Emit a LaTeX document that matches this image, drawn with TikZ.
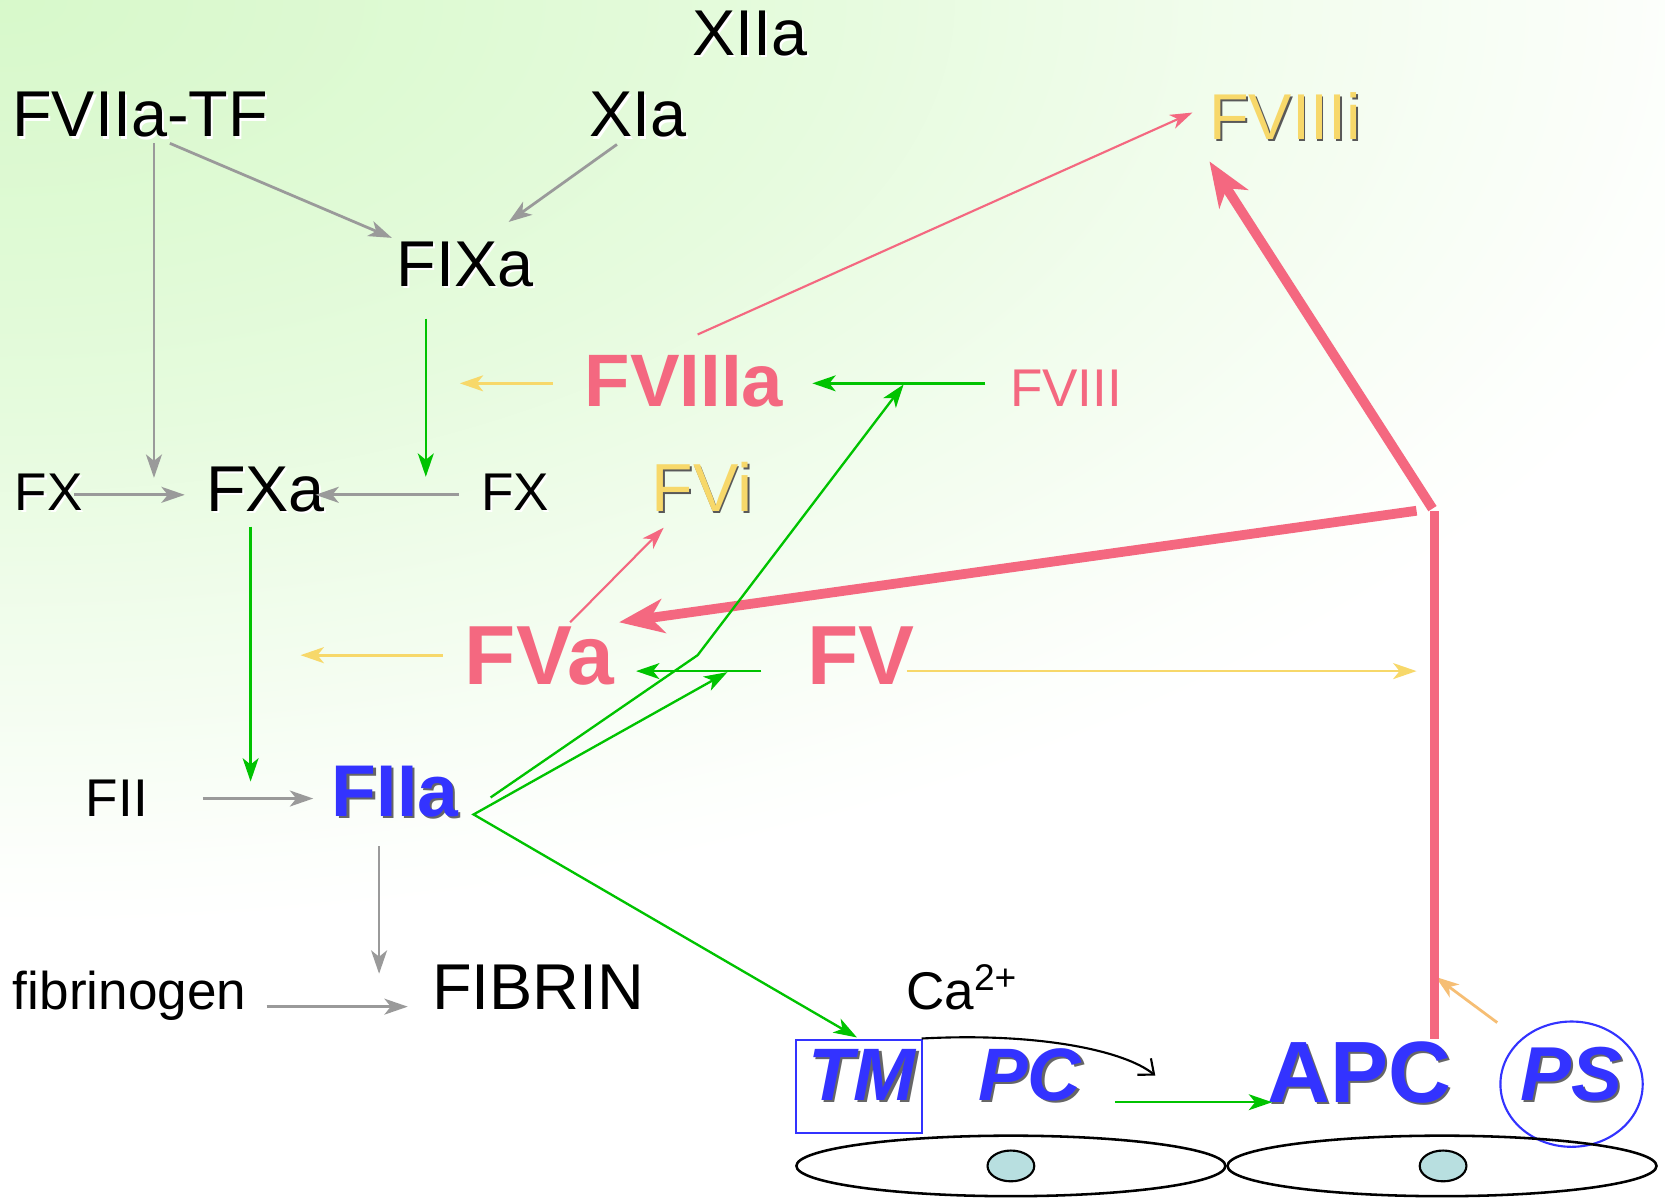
\documentclass[tikz,border=0pt]{standalone}
\usepackage{fontspec}
\setmainfont{Liberation Sans}
\usetikzlibrary{arrows.meta}
\definecolor{bgg}{HTML}{D4F8C6}
\definecolor{arrgray}{HTML}{9A9A9A}
\definecolor{grn}{HTML}{00C300}
\definecolor{pnk}{HTML}{F46880}
\definecolor{ylw}{HTML}{F7D86A}
\definecolor{org}{HTML}{F6BE74}
\definecolor{blu}{HTML}{3333FF}
\definecolor{nuc}{HTML}{B8DFE0}
\pgfdeclareradialshading{bgshade}{\pgfpoint{0bp}{0bp}}{color(0bp)=(bgg!92!white); color(6bp)=(bgg!76!white); color(11.5bp)=(bgg!58!white); color(16bp)=(bgg!37!white); color(20bp)=(bgg!20!white); color(23bp)=(bgg!7!white); color(25bp)=(white); color(50bp)=(white)}
\newcommand\shadowed[3]{\rlap{\kern#3\raisebox{-#3}{\color{#1}#2}}#2}
\begin{document}
\begin{tikzpicture}[x=0.5pt,y=-0.5pt,
  lbl/.style={inner sep=0pt,anchor=base},
  bigreg/.style={lbl,font=\fontsize{30.5}{34}\selectfont,text=black},
  smallreg/.style={lbl,font=\fontsize{25}{29}\selectfont,text=black},
  grayarr/.style={draw=arrgray,line width=1.3pt,-{Stealth[length=11pt,width=7.5pt,inset=3pt]}},
  greenarr/.style={draw=grn,line width=1.1pt,-{Stealth[length=11pt,width=7.5pt,inset=3pt]}},
  yelarr/.style={draw=ylw,line width=1.3pt,-{Stealth[length=11pt,width=7.5pt,inset=3pt]}},
  pinkthin/.style={draw=pnk,line width=1pt,-{Stealth[length=10.5pt,width=7pt,inset=3pt]}},
  pinkthick/.style={draw=pnk,line width=4.6pt},
  pinkhead/.style={pinkthick,-{Stealth[length=21pt,width=16pt,inset=6pt]}},
  cell/.style={draw=black,line width=1.2pt},
  nucleus/.style={draw=black,line width=1pt,fill=nuc}]
% background
\fill[white] (0,0) rectangle (1568,1129);
\begin{scope}
  \clip (0,0) rectangle (1568,1081);
  \shade[shading=bgshade] (-1700,-875) rectangle (1700,875);
\end{scope}
\useasboundingbox (0,0) rectangle (1568,1129);

% labels
\node[bigreg] (xiia) at (706,52) {\shadowed{white}{XIIa}{1pt}};
\node[bigreg] (fviiatf) at (132,129) {\shadowed{white}{FVIIa-TF}{1pt}};
\node[bigreg] (xia) at (601,129) {\shadowed{white}{XIa}{1pt}};
\node[bigreg] (fixa) at (438,270) {\shadowed{white}{FIXa}{1pt}};
\node[smallreg] (fxl) at (46,481) {\shadowed{white}{FX}{1pt}};
\node[bigreg] (fxa) at (250,482) {\shadowed{white}{FXa}{1pt}};
\node[smallreg] (fxr) at (485,481) {\shadowed{white}{FX}{1pt}};
\node[lbl,font=\fontsize{32}{36}\selectfont,text=ylw] (fvi) at (661,482) {\shadowed{black!65}{FVi}{0.9pt}};
\node[lbl,font=\fontsize{35}{40}\selectfont\bfseries,text=pnk] (fviiia) at (644,383) {FVIIIa};
\node[lbl,font=\fontsize{25}{29}\selectfont,text=pnk] (fviii) at (1004,383) {FVIII};
\node[lbl,font=\fontsize{30.5}{34}\selectfont,text=ylw] (fviiii) at (1210,131) {\shadowed{black!65}{FVIIIi}{0.9pt}};
\node[lbl,font=\fontsize{39.5}{44}\selectfont\bfseries,text=pnk] (fva) at (508,645) {FVa};
\node[lbl,font=\fontsize{39.5}{44}\selectfont\bfseries,text=pnk] (fv) at (811,645) {FV};
\node[smallreg] (fii) at (110,769) {\shadowed{white}{FII}{1pt}};
\node[lbl,font=\fontsize{34.5}{39}\selectfont\bfseries,text=blu] (fiia) at (372,769) {\shadowed{black!60}{FIIa}{1pt}};
\node[smallreg] (fibrinogen) at (122,951) {fibrinogen};
\node[bigreg] (fibrin) at (507,951) {FIBRIN};
\node[smallreg,anchor=base west] (ca) at (853,951) {Ca\textsuperscript{2+}};
\node[lbl,font=\fontsize{35}{40}\selectfont\bfseries\itshape,text=blu] (tm) at (812,1036) {\shadowed{black!60}{TM}{1pt}};
\node[lbl,font=\fontsize{35}{40}\selectfont\bfseries\itshape,text=blu] (pc) at (970,1036) {\shadowed{black!60}{PC}{1pt}};
\node[lbl,font=\fontsize{41}{46}\selectfont\bfseries,text=blu] (apc) at (1280,1038) {\shadowed{black!60}{APC}{1pt}};
\node[lbl,font=\fontsize{36}{41}\selectfont\bfseries\itshape,text=blu] (ps) at (1480,1036) {\shadowed{black!60}{PS}{1pt}};

% TM box, PS ring
\draw[blu,line width=1pt] (750,979) rectangle (868,1067);
\draw[blu,line width=1pt] (1480,1021) ellipse [x radius=67, y radius=59];

% cells
\draw[cell] (952,1098) ellipse [x radius=202, y radius=28.5];
\draw[cell] (1358,1098) ellipse [x radius=202, y radius=28.5];
\draw[nucleus] (952,1098) ellipse [x radius=22, y radius=14.5];
\draw[nucleus] (1359,1098) ellipse [x radius=22, y radius=14.5];

% coordinates
\coordinate (g1s) at (145,135);  \coordinate (g1e) at (145,450);
\coordinate (g2s) at (160,135);  \coordinate (g2e) at (369,224);
\coordinate (g3s) at (581,136);  \coordinate (g3e) at (479,209);
\coordinate (g4s) at (70,466);   \coordinate (g4e) at (174,466);
\coordinate (g5s) at (432,466);  \coordinate (g5e) at (297,466);
\coordinate (g6s) at (191,752);  \coordinate (g6e) at (295,752);
\coordinate (g7s) at (357,797);  \coordinate (g7e) at (357,917);
\coordinate (g8s) at (251,948);  \coordinate (g8e) at (384,948);

\coordinate (n1s) at (401,300);  \coordinate (n1e) at (401,449);
\coordinate (n2s) at (236,496);  \coordinate (n2e) at (236,736);
\coordinate (n3s) at (928,361);  \coordinate (n3e) at (765,361);
\coordinate (n4s) at (717,632);  \coordinate (n4e) at (599,632);
\coordinate (n5s) at (462,751);  \coordinate (n5k) at (657,617); \coordinate (n5e) at (851,362);
\coordinate (n6v) at (446,767);  \coordinate (n6a) at (685,633); \coordinate (n6b) at (807,977);
\coordinate (n7s) at (1050,1038); \coordinate (n7e) at (1198,1038);

\coordinate (p1s) at (657,315);  \coordinate (p1e) at (1123,106);
\coordinate (p2s) at (537,586);  \coordinate (p2e) at (625,497);
\coordinate (jv) at (1351,481);  \coordinate (apctop) at (1351,978);
\coordinate (jd) at (1349,479);  \coordinate (p3e) at (1139,152);
\coordinate (jl) at (1334,481);  \coordinate (p4e) at (583,586);

\coordinate (y1s) at (521,361);  \coordinate (y1e) at (433,361);
\coordinate (y2s) at (417,617);  \coordinate (y2e) at (283,617);
\coordinate (y3s) at (854,632);  \coordinate (y3e) at (1334,632);
\coordinate (o1s) at (1410,963); \coordinate (o1e) at (1352,920);

\coordinate (bks) at (868,978);  \coordinate (bke) at (1088,1013);

% gray arrows
\draw[grayarr] (g1s) -- (g1e);
\draw[grayarr] (g2s) -- (g2e);
\draw[grayarr] (g3s) -- (g3e);
\draw[grayarr] (g4s) -- (g4e);
\draw[grayarr] (g5s) -- (g5e);
\draw[grayarr] (g6s) -- (g6e);
\draw[grayarr] (g7s) -- (g7e);
\draw[grayarr] (g8s) -- (g8e);

% yellow / orange arrows
\draw[yelarr] (y1s) -- (y1e);
\draw[yelarr] (y2s) -- (y2e);
\draw[yelarr] (y3s) -- (y3e);
\draw[yelarr,draw=org] (o1s) -- (o1e);

% pink
\draw[pinkthin] (p1s) -- (p1e);
\draw[pinkthin] (p2s) -- (p2e);
\draw[pinkthick] (apctop) -- (jv);
\draw[pinkhead] (jd) -- (p3e);
\draw[pinkhead] (jl) -- (p4e);

% green arrows
\draw[greenarr] (n1s) -- (n1e);
\draw[greenarr] (n2s) -- (n2e);
\draw[greenarr] (n3s) -- (n3e);
\draw[greenarr] (n4s) -- (n4e);
\draw[greenarr] (n5s) -- (n5k) -- (n5e);
\draw[greenarr,{Stealth[length=11pt,width=7.5pt,inset=3pt]}-{Stealth[length=11pt,width=7.5pt,inset=3pt]}] (n6a) -- (n6v) -- (n6b);
\draw[greenarr] (n7s) -- (n7e);

% black curved arrow
\draw[black,line width=1pt,-{Straight Barb[length=6pt,width=10pt]}] (bks) .. controls (980,972) and (1060,990) .. (bke);
\end{tikzpicture}
\end{document}
